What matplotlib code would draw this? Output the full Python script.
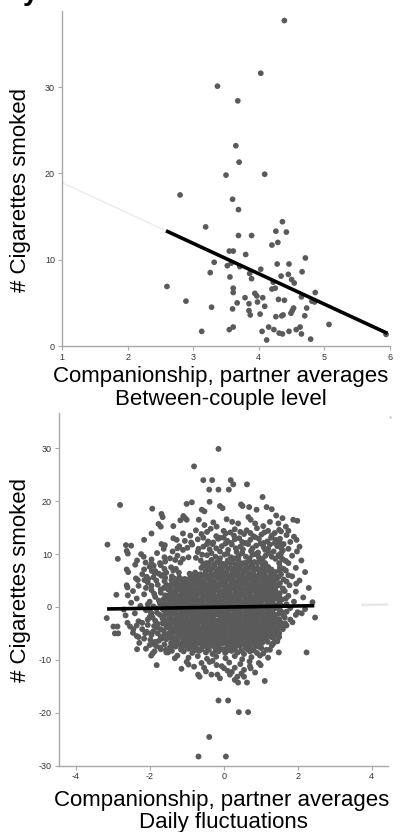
import numpy as np
import matplotlib
matplotlib.use('Agg')
import matplotlib.pyplot as plt

plt.rcParams['font.family'] = ['Liberation Sans', 'DejaVu Sans']
plt.rcParams['axes.unicode_minus'] = False

# ---- between-couple level (couple means) ----
between_x = [4.39, 4.03, 3.37, 3.68, 3.65, 3.70, 3.50, 4.09, 2.80, 3.60,
             3.69, 3.19, 4.36, 4.26, 4.42, 3.69, 3.89, 4.20, 4.29, 3.80,
             4.71, 3.55, 3.61, 3.32, 3.52, 3.58, 3.71, 4.28, 4.46, 3.26,
             3.56, 3.86, 3.89, 4.03, 2.60, 3.61, 3.61, 4.20, 4.25, 3.94,
             3.97, 4.06, 3.79, 4.30, 4.39, 2.89, 3.67, 3.85, 3.98, 4.09,
             3.28, 3.60, 3.85, 3.87, 4.02, 4.26, 3.13, 3.55, 3.61, 4.05,
             4.15, 4.23, 4.12, 4.66, 4.34, 4.45, 4.50, 4.54, 4.22, 4.86,
             4.65, 4.81, 4.85, 4.73, 4.53, 4.51, 4.49, 4.37, 4.35, 4.70,
             5.07, 4.57, 4.63, 4.31, 4.36, 4.46, 4.65, 4.79, 5.94]
between_y = [37.7, 31.6, 30.1, 28.4, 23.2, 21.3, 19.8, 19.9, 17.5, 17.0,
             15.8, 13.8, 14.4, 13.3, 13.2, 12.8, 12.8, 11.7, 12.0, 10.6,
             10.2, 11.0, 11.0, 9.7, 9.3, 9.6, 9.2, 9.5, 9.5, 8.5,
             8.0, 8.4, 7.8, 8.9, 6.9, 6.7, 6.2, 6.6, 6.7, 6.1,
             5.8, 5.6, 5.6, 5.4, 5.3, 5.2, 5.0, 4.9, 5.1, 4.6,
             4.5, 4.3, 4.1, 3.6, 3.7, 3.4, 1.7, 1.9, 2.2, 1.7,
             2.2, 1.9, 0.7, 8.6, 8.1, 8.3, 7.7, 7.3, 7.4, 6.2,
             5.7, 5.2, 5.1, 4.4, 4.4, 4.1, 3.8, 3.6, 3.5, 3.5,
             2.5, 1.9, 2.2, 1.5, 1.4, 1.7, 1.4, 0.8, 1.35]
between_fit = (22.45, -3.52)      # intercept, slope
between_fit_range = (2.585, 5.96)

# ---- daily fluctuations (within-couple) ----
daily_core = [
    (-1.31, 8.9), (-1.17, 8.4), (-0.62, 8.8), (-0.47, 8.3), (-0.33, 8.9), (-0.18, 8.5), (-0.04, 8.2), (0.11, 8.8), (0.25, 8.4), (0.4, 8.9), (0.54, 8.3), (0.69, 8.7), (0.83, 8.5), (0.97, 8.9), (1.12, 8.3),
    (-1.42, 7.5), (-0.53, 7.9), (-0.39, 7.4), (-0.25, 7.8), (-0.1, 7.5), (0.05, 7.9), (0.19, 7.4), (0.33, 7.7), (0.48, 8.0), (0.62, 7.5), (0.77, 7.8), (0.91, 7.4), (1.06, 7.9), (1.2, 7.6),
    (-1.36, 6.9), (-1.21, 6.5), (-0.49, 6.7), (-0.35, 7.0), (-0.2, 6.5), (-0.06, 6.9), (0.08, 6.6), (0.23, 7.0), (0.37, 6.6), (0.52, 6.9), (0.66, 6.5), (0.81, 6.8), (0.95, 7.0), (1.1, 6.6), (1.24, 6.9), (1.39, 6.6),
    (-1.4, 5.8), (-0.83, 6.1), (-0.68, 5.7), (-0.54, 6.0), (-0.4, 5.6), (-0.25, 6.1), (-0.11, 5.7), (0.04, 6.0), (0.18, 5.6), (0.33, 6.1), (0.47, 5.8), (0.61, 5.6), (0.76, 6.1), (0.9, 5.7), (1.05, 6.0), (1.19, 5.6), (1.33, 5.9),
    (-1.41, 5.1), (-1.27, 4.8), (-1.12, 5.2), (-0.98, 4.7), (-0.83, 5.0), (-0.69, 5.3), (-0.55, 4.8), (-0.4, 5.1), (-0.26, 4.7), (-0.11, 5.2), (0.03, 4.9), (0.17, 5.2), (0.32, 4.7), (0.46, 5.1), (0.61, 4.8), (0.75, 5.2), (0.9, 4.9), (1.04, 5.1), (1.18, 4.7), (1.33, 5.0), (1.43, 5.3),
    (-1.46, 4.0), (-1.32, 4.3), (-1.17, 3.9), (-1.03, 4.2), (-0.88, 4.0), (-0.74, 4.4), (-0.59, 3.9), (-0.45, 4.2), (-0.3, 3.8), (-0.16, 4.1), (-0.01, 4.3), (0.13, 3.9), (0.28, 4.2), (0.42, 4.0), (0.57, 4.4), (0.71, 3.9), (0.86, 4.2), (1.0, 3.8), (1.15, 4.1), (1.29, 4.3), (1.41, 3.9),
    (-1.5, 3.3), (-1.36, 3.0), (-1.21, 3.4), (-1.07, 3.1), (-0.92, 2.9), (-0.78, 3.3), (-0.63, 3.0), (-0.49, 3.4), (-0.34, 3.1), (-0.2, 3.3), (-0.05, 2.9), (0.09, 3.2), (0.24, 3.5), (0.38, 3.0), (0.53, 3.3), (0.67, 2.9), (0.82, 3.2), (0.96, 3.4), (1.11, 3.0), (1.25, 3.3), (1.4, 3.1),
    (-1.48, 2.2), (-1.33, 2.5), (-1.19, 2.1), (-1.04, 2.4), (-0.9, 2.0), (-0.75, 2.3), (-0.61, 2.6), (-0.46, 2.1), (-0.32, 2.4), (-0.17, 2.0), (-0.03, 2.3), (0.12, 2.6), (0.26, 2.1), (0.41, 2.4), (0.55, 2.2), (0.7, 2.5), (0.84, 2.0), (0.99, 2.3), (1.13, 2.6), (1.28, 2.1), (1.42, 2.4),
    (-1.51, 1.5), (-1.37, 1.2), (-1.22, 1.6), (-1.08, 1.3), (-0.93, 1.1), (-0.79, 1.5), (-0.64, 1.2), (-0.5, 1.6), (-0.35, 1.3), (-0.21, 1.0), (-0.06, 1.4), (0.08, 1.7), (0.23, 1.2), (0.37, 1.5), (0.52, 1.1), (0.66, 1.4), (0.81, 1.6), (0.95, 1.2), (1.1, 1.5), (1.24, 1.3), (1.39, 1.6),
    (-1.49, 0.4), (-1.34, 0.7), (-1.2, 0.3), (-1.05, 0.6), (-0.91, 0.2), (-0.76, 0.5), (-0.62, 0.8), (-0.47, 0.3), (-0.33, 0.6), (-0.18, 0.4), (-0.04, 0.7), (0.11, 0.2), (0.25, 0.5), (0.4, 0.8), (0.54, 0.3), (0.69, 0.6), (0.83, 0.4), (0.98, 0.7), (1.12, 0.2), (1.27, 0.5), (1.41, 0.3),
    (-1.52, -0.3), (-1.38, -0.6), (-1.23, -0.2), (-1.09, -0.5), (-0.94, -0.7), (-0.8, -0.3), (-0.65, -0.6), (-0.51, -0.2), (-0.36, -0.5), (-0.22, -0.1), (-0.07, -0.4), (0.07, -0.7), (0.22, -0.3), (0.36, -0.6), (0.51, -0.2), (0.65, -0.5), (0.8, -0.3), (0.94, -0.6), (1.09, -0.2), (1.23, -0.5), (1.38, -0.3),
    (-1.5, -1.4), (-1.35, -1.1), (-1.21, -1.5), (-1.06, -1.2), (-0.92, -1.0), (-0.77, -1.4), (-0.63, -1.1), (-0.48, -1.5), (-0.34, -1.2), (-0.19, -1.4), (-0.05, -1.0), (0.1, -1.3), (0.24, -1.6), (0.39, -1.1), (0.53, -1.4), (0.68, -1.2), (0.82, -1.5), (0.97, -1.1), (1.11, -1.4), (1.26, -1.2), (1.4, -1.5),
    (-1.47, -2.1), (-1.33, -2.4), (-1.18, -2.0), (-1.04, -2.3), (-0.89, -2.5), (-0.75, -2.1), (-0.6, -2.4), (-0.46, -2.0), (-0.31, -2.3), (-0.17, -2.6), (-0.02, -2.1), (0.12, -2.4), (0.27, -2.0), (0.41, -2.3), (0.56, -2.5), (0.7, -2.1), (0.85, -2.4), (0.99, -2.0), (1.14, -2.3), (1.28, -2.1), (1.42, -2.4),
    (-1.49, -3.2), (-1.34, -2.9), (-1.2, -3.3), (-1.05, -3.0), (-0.91, -3.4), (-0.76, -3.1), (-0.62, -2.8), (-0.47, -3.2), (-0.33, -3.0), (-0.18, -3.4), (-0.04, -3.1), (0.11, -2.9), (0.25, -3.3), (0.4, -3.0), (0.54, -3.4), (0.69, -3.1), (0.83, -2.9), (0.98, -3.2), (1.12, -3.0), (1.27, -3.3), (1.41, -3.0),
    (-1.5, -3.9), (-1.36, -4.2), (-1.21, -3.8), (-1.07, -4.1), (-0.92, -4.3), (-0.78, -3.9), (-0.63, -4.2), (-0.49, -3.8), (-0.34, -4.1), (-0.2, -4.4), (-0.05, -3.9), (0.09, -4.2), (0.24, -3.8), (0.38, -4.1), (0.53, -4.3), (0.67, -3.9), (0.82, -4.2), (0.96, -3.8), (1.11, -4.1), (1.25, -3.9), (1.38, -4.2),
    (-1.48, -5.0), (-1.34, -4.7), (-1.19, -5.1), (-1.05, -4.8), (-0.9, -5.2), (-0.76, -4.9), (-0.61, -4.6), (-0.47, -5.0), (-0.32, -4.8), (-0.18, -5.2), (-0.03, -4.9), (0.11, -4.7), (0.26, -5.1), (0.4, -4.8), (0.55, -5.2), (0.69, -4.9), (0.84, -4.7), (0.98, -5.0), (1.13, -4.8), (1.27, -5.1),
    (-1.46, -5.7), (-1.31, -6.0), (-1.17, -5.6), (-1.02, -5.9), (-0.88, -6.1), (-0.73, -5.7), (-0.59, -6.0), (-0.44, -5.6), (-0.3, -5.9), (-0.15, -6.2), (-0.01, -5.7), (0.14, -6.0), (0.28, -5.6), (0.43, -5.9), (0.57, -6.1), (0.72, -5.7), (0.86, -6.0), (1.01, -5.6), (1.15, -5.9), (1.29, -5.7),
    (-1.42, -6.8), (-1.28, -6.5), (-1.13, -6.9), (-0.99, -6.6), (-0.84, -7.0), (-0.7, -6.7), (-0.55, -6.4), (-0.41, -6.8), (-0.26, -6.6), (-0.12, -7.0), (0.03, -6.7), (0.17, -6.5), (0.32, -6.9), (0.46, -6.6), (0.61, -7.0), (0.75, -6.7), (0.9, -6.5), (1.04, -6.8), (1.19, -6.6),
    (-1.3, -7.5), (-1.15, -7.8), (-1.01, -7.4), (-0.86, -7.7), (-0.72, -7.9), (-0.57, -7.5), (-0.43, -7.8), (-0.28, -7.4), (-0.14, -7.7), (0.01, -8.0), (0.15, -7.5), (0.3, -7.8), (0.44, -7.4), (0.59, -7.7), (0.73, -7.9), (0.88, -7.5), (1.02, -7.8),
    (-1.08, -8.4), (-0.85, -8.7), (-0.66, -8.3), (-0.48, -8.6), (-0.3, -8.9), (-0.14, -8.4), (0.04, -8.7), (0.21, -8.3), (0.38, -8.6), (0.55, -8.9), (0.71, -8.4), (0.9, -8.7),
]
daily_core2 = [
    (-0.55, 8.1), (-0.4, 8.3), (-0.26, 8.0), (-0.11, 8.4), (0.04, 8.1), (0.18, 8.3), (0.33, 8.0), (0.47, 8.2), (0.62, 8.4), (0.76, 8.0), (0.91, 8.3), (1.05, 8.1),
    (-1.29, 7.2), (-0.6, 7.4), (-0.45, 7.1), (-0.31, 7.3), (-0.16, 7.0), (-0.02, 7.4), (0.13, 7.2), (0.27, 7.0), (0.42, 7.3), (0.56, 7.1), (0.71, 7.4), (0.85, 7.2), (1.0, 7.0), (1.14, 7.3), (1.29, 7.1),
    (-0.92, 6.3), (-0.77, 6.5), (-0.63, 6.2), (-0.48, 6.4), (-0.34, 6.2), (-0.19, 6.6), (-0.05, 6.3), (0.1, 6.1), (0.24, 6.4), (0.39, 6.2), (0.53, 6.5), (0.68, 6.3), (0.82, 6.1), (0.97, 6.4), (1.11, 6.2), (1.26, 6.5),
    (-1.34, 5.4), (-1.2, 5.6), (-1.05, 5.3), (-0.91, 5.5), (-0.76, 5.7), (-0.62, 5.4), (-0.47, 5.6), (-0.33, 5.3), (-0.18, 5.5), (-0.04, 5.7), (0.11, 5.4), (0.25, 5.5), (0.4, 5.3), (0.54, 5.6), (0.69, 5.4), (0.83, 5.3), (0.98, 5.6), (1.12, 5.4), (1.27, 5.5), (1.4, 5.7),
    (-1.39, 4.5), (-1.24, 4.7), (-1.1, 4.4), (-0.95, 4.6), (-0.81, 4.5), (-0.66, 4.7), (-0.52, 4.4), (-0.37, 4.6), (-0.23, 4.5), (-0.08, 4.8), (0.06, 4.4), (0.21, 4.6), (0.35, 4.5), (0.5, 4.7), (0.64, 4.4), (0.79, 4.6), (0.93, 4.5), (1.08, 4.7), (1.22, 4.4), (1.36, 4.6),
    (-1.43, 3.6), (-1.28, 3.8), (-1.14, 3.5), (-0.99, 3.7), (-0.85, 3.6), (-0.7, 3.8), (-0.56, 3.5), (-0.41, 3.7), (-0.27, 3.6), (-0.12, 3.9), (0.02, 3.5), (0.17, 3.7), (0.31, 3.6), (0.46, 3.8), (0.6, 3.5), (0.75, 3.7), (0.89, 3.6), (1.04, 3.8), (1.18, 3.5), (1.33, 3.7),
    (-1.43, 2.7), (-1.29, 2.9), (-1.14, 2.6), (-1.0, 2.8), (-0.85, 2.7), (-0.71, 2.9), (-0.56, 2.6), (-0.42, 2.8), (-0.27, 2.7), (-0.13, 3.0), (0.02, 2.6), (0.16, 2.8), (0.31, 2.7), (0.45, 2.9), (0.6, 2.6), (0.74, 2.8), (0.89, 2.7), (1.03, 2.9), (1.18, 2.6), (1.32, 2.8),
    (-1.44, 1.8), (-1.3, 2.0), (-1.15, 1.7), (-1.01, 1.9), (-0.86, 1.8), (-0.72, 2.0), (-0.57, 1.7), (-0.43, 1.9), (-0.28, 1.8), (-0.14, 2.1), (0.01, 1.7), (0.15, 1.9), (0.3, 1.8), (0.44, 2.0), (0.59, 1.7), (0.73, 1.9), (0.88, 1.8), (1.02, 2.0), (1.17, 1.7), (1.31, 1.9),
    (-1.44, 0.9), (-1.29, 1.1), (-1.15, 0.8), (-1.0, 1.0), (-0.86, 0.9), (-0.71, 1.1), (-0.57, 0.8), (-0.42, 1.0), (-0.28, 0.9), (-0.13, 1.2), (0.02, 0.8), (0.16, 1.0), (0.31, 0.9), (0.45, 1.1), (0.6, 0.8), (0.74, 1.0), (0.89, 0.9), (1.03, 1.1), (1.18, 0.8), (1.32, 1.0),
    (-1.45, 0.0), (-1.3, 0.2), (-1.16, -0.1), (-1.01, 0.1), (-0.87, 0.0), (-0.72, 0.2), (-0.58, -0.1), (-0.43, 0.1), (-0.29, 0.0), (-0.14, 0.3), (0.0, -0.1), (0.15, 0.1), (0.29, 0.0), (0.44, 0.2), (0.58, -0.1), (0.73, 0.1), (0.87, 0.0), (1.02, 0.2), (1.16, -0.1), (1.31, 0.1),
    (-1.44, -0.9), (-1.3, -0.7), (-1.15, -1.0), (-1.01, -0.8), (-0.86, -0.9), (-0.72, -0.7), (-0.57, -1.0), (-0.43, -0.8), (-0.28, -0.9), (-0.14, -0.6), (0.01, -1.0), (0.15, -0.8), (0.3, -0.9), (0.44, -0.7), (0.59, -1.0), (0.73, -0.8), (0.88, -0.9), (1.02, -0.7), (1.17, -1.0), (1.31, -0.8),
    (-1.43, -1.8), (-1.28, -1.6), (-1.14, -1.9), (-0.99, -1.7), (-0.85, -1.8), (-0.7, -1.6), (-0.56, -1.9), (-0.41, -1.7), (-0.27, -1.8), (-0.12, -1.5), (0.02, -1.9), (0.17, -1.7), (0.31, -1.8), (0.46, -1.6), (0.6, -1.9), (0.75, -1.7), (0.89, -1.8), (1.04, -1.6), (1.18, -1.9), (1.33, -1.7),
    (-1.42, -2.7), (-1.27, -2.5), (-1.13, -2.8), (-0.98, -2.6), (-0.84, -2.7), (-0.69, -2.5), (-0.55, -2.8), (-0.4, -2.6), (-0.26, -2.7), (-0.11, -2.4), (0.03, -2.8), (0.18, -2.6), (0.32, -2.7), (0.47, -2.5), (0.61, -2.8), (0.76, -2.6), (0.9, -2.7), (1.05, -2.5), (1.19, -2.8), (1.34, -2.6),
    (-1.43, -3.6), (-1.28, -3.4), (-1.14, -3.7), (-0.99, -3.5), (-0.85, -3.6), (-0.7, -3.4), (-0.56, -3.7), (-0.41, -3.5), (-0.27, -3.6), (-0.12, -3.3), (0.02, -3.7), (0.17, -3.5), (0.31, -3.6), (0.46, -3.4), (0.6, -3.7), (0.75, -3.5), (0.89, -3.6), (1.04, -3.4), (1.18, -3.7), (1.33, -3.5),
    (-1.42, -4.5), (-1.27, -4.3), (-1.13, -4.6), (-0.98, -4.4), (-0.84, -4.5), (-0.69, -4.3), (-0.55, -4.6), (-0.4, -4.4), (-0.26, -4.5), (-0.11, -4.2), (0.03, -4.6), (0.18, -4.4), (0.32, -4.5), (0.47, -4.3), (0.61, -4.6), (0.76, -4.4), (0.9, -4.5), (1.05, -4.3), (1.19, -4.6), (1.32, -4.4),
    (-1.41, -5.4), (-1.26, -5.2), (-1.12, -5.5), (-0.97, -5.3), (-0.83, -5.4), (-0.68, -5.2), (-0.54, -5.5), (-0.39, -5.3), (-0.25, -5.4), (-0.1, -5.1), (0.04, -5.5), (0.19, -5.3), (0.33, -5.4), (0.48, -5.2), (0.62, -5.5), (0.77, -5.3), (0.91, -5.4), (1.06, -5.2), (1.2, -5.5),
    (-1.38, -6.3), (-1.24, -6.1), (-1.09, -6.4), (-0.95, -6.2), (-0.8, -6.3), (-0.66, -6.1), (-0.51, -6.4), (-0.37, -6.2), (-0.22, -6.3), (-0.08, -6.0), (0.07, -6.4), (0.21, -6.2), (0.36, -6.3), (0.5, -6.1), (0.65, -6.4), (0.79, -6.2), (0.94, -6.3), (1.08, -6.1),
    (-1.35, -7.2), (-1.2, -7.0), (-1.06, -7.3), (-0.91, -7.1), (-0.77, -7.2), (-0.62, -7.0), (-0.48, -7.3), (-0.33, -7.1), (-0.19, -7.2), (-0.04, -6.9), (0.1, -7.3), (0.25, -7.1), (0.39, -7.2), (0.54, -7.0), (0.68, -7.3), (0.83, -7.1), (0.97, -7.2),
    (-1.15, -8.1), (-0.95, -7.9), (-0.78, -8.2), (-0.6, -8.0), (-0.4, -8.1), (-0.22, -8.3), (-0.05, -8.0), (0.12, -8.2), (0.3, -8.1), (0.48, -8.3), (0.64, -8.0), (0.8, -8.2),
]
daily_upper = [
    (-1.25, 9.7), (-0.95, 9.4), (-0.45, 9.8), (-0.22, 9.5), (0.02, 9.9), (0.2, 9.4), (0.41, 9.7), (0.6, 9.5), (0.78, 9.9), (0.95, 9.4), (1.13, 9.7), (1.3, 9.5), (1.48, 9.8),
    (-1.38, 10.5), (-1.1, 10.8), (-0.7, 10.4), (-0.38, 10.9), (-0.1, 10.5), (0.12, 10.8), (0.35, 10.4), (0.52, 10.9), (0.74, 10.6), (0.93, 10.3), (1.12, 10.8), (1.35, 10.5), (1.6, 10.7),
    (-1.2, 11.5), (-0.85, 11.8), (-0.55, 11.4), (-0.3, 11.9), (-0.05, 11.5), (0.22, 11.8), (0.45, 11.4), (0.66, 11.9), (0.88, 11.6), (1.08, 11.3), (1.25, 11.8), (1.45, 11.5),
    (-1.05, 12.5), (-0.7, 12.8), (-0.42, 12.4), (-0.15, 12.9), (0.1, 12.5), (0.3, 12.8), (0.5, 12.3), (0.72, 12.7), (0.95, 12.9), (1.18, 12.4), (1.4, 12.7),
    (-0.9, 13.5), (-0.6, 13.8), (-0.2, 13.4), (0.05, 13.9), (0.28, 13.5), (0.55, 13.8), (0.8, 13.4), (1.02, 13.7), (1.3, 13.5),
    (-0.75, 14.5), (-0.35, 14.8), (0.0, 14.4), (0.3, 14.7), (0.62, 14.5), (0.9, 14.9), (1.2, 14.4), (1.5, 14.6),
    (-1.45, 9.2), (-1.1, 9.1), (-0.75, 9.3), (-0.58, 9.9), (-0.33, 10.2), (-0.1, 9.2), (0.1, 10.1), (0.3, 9.2), (0.5, 10.2), (0.7, 9.2), (0.86, 10.0), (1.05, 9.1), (1.22, 10.2), (1.4, 9.1), (1.55, 9.4),
    (-1.25, 11.1), (-0.98, 11.2), (-0.68, 11.0), (-0.45, 11.9), (-0.2, 11.1), (0.05, 12.0), (0.33, 11.1), (0.55, 12.1), (0.78, 11.1), (1.0, 12.0), (1.2, 11.0), (1.38, 12.1), (1.55, 11.2),
    (-0.88, 12.2), (-0.55, 13.1), (-0.28, 12.2), (0.0, 13.1), (0.2, 12.1), (0.42, 13.0), (0.62, 12.1), (0.85, 13.2), (1.08, 12.1), (1.28, 13.1), (1.5, 12.3),
    (-1.1, 13.9), (-0.45, 14.2), (-0.1, 13.1), (0.18, 14.1), (0.45, 14.2), (0.72, 14.0), (1.1, 14.1), (1.38, 14.0),
]
daily_left = [
    (-1.62, 11.0), (-1.8, 10.2), (-1.6, 9.4), (-1.95, 9.0), (-1.72, 8.3), (-2.0, 7.6), (-1.6, 7.2), (-1.85, 6.8),
    (-1.68, 5.9), (-2.2, 6.2), (-1.9, 5.6), (-1.6, 4.9), (-2.05, 4.6), (-1.78, 4.2), (-2.3, 4.0), (-1.62, 3.6),
    (-1.95, 3.2), (-2.45, 3.0), (-1.7, 2.7), (-2.15, 2.4), (-1.85, 1.9), (-1.62, 1.5), (-2.35, 1.6), (-2.0, 1.0),
    (-1.72, 0.6), (-2.5, 0.8), (-2.25, 0.2), (-1.9, 0.1), (-1.65, -0.4), (-2.1, -0.6), (-2.7, -0.5), (-1.8, -1.1),
    (-2.4, -1.2), (-1.62, -1.8), (-2.0, -1.9), (-2.65, -1.6), (-1.85, -2.6), (-2.3, -2.7), (-1.65, -3.1), (-2.05, -3.4),
    (-2.6, -3.0), (-1.8, -3.9), (-2.2, -4.2), (-1.62, -4.5), (-1.95, -5.3), (-2.45, -4.9), (-1.7, -5.7), (-2.15, -6.0),
    (-1.85, -6.6), (-1.6, -7.1), (-2.0, -7.2), (-1.72, -7.7), (-1.55, -8.6),
    (-1.58, 8.6), (-1.7, 7.9), (-1.55, 6.5), (-1.75, 6.3), (-1.58, 5.5), (-1.82, 5.0), (-1.55, 4.2), (-1.7, 3.3),
    (-1.88, 2.5), (-1.58, 2.2), (-1.75, 1.2), (-1.6, 0.7), (-1.82, -0.3), (-1.58, -1.0), (-1.72, -1.5), (-1.95, -1.2),
    (-1.58, -2.6), (-1.78, -3.2), (-1.55, -3.7), (-1.9, -4.6), (-1.6, -5.2), (-1.78, -5.0), (-1.55, -6.1), (-1.75, -6.4),
    (-1.9, -7.0), (-1.45, -7.6), (-1.4, -8.3),
    (-1.98, -0.9), (-2.05, -2.4), (-1.88, -3.6), (-2.12, -5.0), (-1.68, -6.0), (-1.98, -6.2), (-2.28, -6.8), (-1.82, -7.4),
    (-2.1, -7.9), (-1.65, -2.2), (-1.92, -2.0), (-2.2, -3.0), (-1.7, -4.2), (-2.35, -3.5), (-1.6, 0.1), (-2.05, 0.5),
    (-1.95, 4.0), (-2.1, 3.6), (-1.62, 6.1), (-1.95, 8.2),
]
daily_right = [
    (1.55, 14.3), (1.7, 13.6), (1.52, 12.9), (1.8, 12.3), (1.6, 11.8), (1.75, 11.0), (2.05, 11.4), (1.55, 10.2),
    (1.85, 9.7), (1.6, 9.0), (2.1, 8.8), (1.75, 8.3), (1.52, 7.6), (1.95, 7.4), (1.68, 6.9), (2.2, 6.6),
    (1.55, 6.2), (1.85, 5.8), (1.62, 5.2), (2.05, 5.0), (1.52, 4.5), (1.78, 4.1), (2.3, 3.6), (1.6, 3.5),
    (1.95, 2.9), (1.52, 2.6), (1.75, 2.1), (2.15, 1.8), (1.58, 1.4), (1.9, 1.0), (2.4, 0.9), (1.55, 0.3),
    (1.8, -0.2), (2.2, -0.4), (1.55, -0.8), (2.0, -1.0), (1.62, -1.6), (1.5, -2.3), (1.8, -2.4), (1.55, -3.0),
    (1.48, -3.7), (1.6, -4.2), (1.5, -5.0), (1.35, -5.8), (1.45, -6.5), (1.3, -7.3), (1.25, -8.1),
    (1.5, 9.6), (1.68, 8.7), (1.5, 8.3), (1.62, 7.2), (1.5, 6.9), (1.75, 6.0), (1.48, 5.7), (1.7, 4.8),
    (1.48, 4.1), (1.65, 3.0), (1.5, 2.0), (1.68, 1.6), (1.5, 1.0), (1.7, 0.5), (1.5, -0.3), (1.7, -0.9),
    (1.5, -1.2), (1.65, -2.0), (1.45, -2.9), (1.62, -3.5), (1.45, -4.5), (1.4, -5.3), (1.5, -5.7), (1.35, -6.8),
]
daily_lower = [
    (-1.25, -9.2), (-0.95, -9.6), (-0.7, -9.3), (-0.45, -9.8), (-0.2, -9.4), (0.05, -9.7), (0.3, -9.3), (0.5, -9.9),
    (0.75, -9.5), (0.98, -9.2), (1.2, -9.6), (-1.0, -10.4), (-0.6, -10.6), (-0.3, -10.2), (0.15, -10.5), (0.45, -10.8),
    (0.7, -10.3), (0.95, -10.6), (-0.8, -11.3), (-0.05, -11.2), (0.3, -11.5), (0.55, -11.9), (1.0, -11.0), (-0.48, -12.2),
    (0.22, -12.3), (0.48, -12.6), (0.85, -12.4), (-0.1, -13.5), (0.3, -13.8), (0.55, -13.2),
]
daily_outer = [
    (-0.14, 29.9), (-0.80, 26.6), (-0.55, 24.0), (-0.31, 24.0), (0.19, 24.0), (0.26, 23.2), (0.63, 23.2),
    (-0.39, 22.2), (-0.14, 22.2), (0.14, 22.2), (1.05, 20.8), (-2.80, 19.3), (-1.0, 19.5), (-0.86, 19.8),
    (-0.38, 19.9), (0.47, 19.4), (0.51, 19.1), (0.69, 18.9), (0.89, 18.4), (1.16, 18.9), (1.30, 18.5),
    (-1.93, 18.6), (-1.68, 17.6), (-1.65, 17.0), (-1.09, 17.2), (-1.04, 16.8), (-0.59, 18.4), (-0.52, 18.1),
    (-0.10, 19.1), (-0.03, 18.7), (0.67, 17.0), (0.73, 16.5), (1.42, 17.3), (1.59, 16.8), (1.88, 16.5), (1.99, 16.3),
    (-1.17, 16.4), (-1.0, 16.5), (-1.76, 15.7), (-1.70, 15.2), (-1.36, 15.3), (-0.67, 16.5), (-0.52, 15.5),
    (-0.28, 16.0), (-0.19, 15.2), (0.08, 16.6), (0.23, 16.1), (0.39, 15.8), (0.85, 15.8), (1.07, 15.3),
    (1.25, 16.1), (1.48, 15.8), (1.68, 15.2), (1.75, 14.4), (-1.95, 13.9), (-2.15, 12.7), (-3.14, 11.8),
    (-2.64, 11.7), (-2.50, 11.6), (-1.68, 11.9), (-1.59, 11.7), (-1.36, 13.0), (-1.27, 12.7), (1.62, 11.9),
    (1.90, 13.3), (1.97, 12.7), (-2.86, 9.1), (-2.62, 10.6), (-2.59, 10.1), (-2.34, 8.8), (-2.39, 8.0),
    (-2.23, 10.0), (-2.16, 9.5), (-2.62, 7.1), (-2.58, 6.6), (-2.11, 8.4), (-2.15, 7.1), (-2.14, 5.1),
    (-1.94, 6.8), (-1.86, 6.4), (-1.89, 7.8), (-2.08, 5.7), (-2.04, 5.3), (-2.37, 5.4), (-2.32, 5.1),
    (-2.62, 4.1), (-2.60, 3.7), (-2.90, 2.3), (-2.59, 2.2), (1.98, 10.5), (1.96, 4.4),
    (-3.16, -2.1), (-2.98, -3.7), (-2.87, -3.7), (-2.94, -5.0), (-2.85, -5.0), (-2.53, -3.7), (-2.44, -4.2),
    (-2.35, -5.5), (-2.30, -5.7), (-2.08, -4.7), (-1.97, -5.0), (-2.34, -8.0), (-1.87, -8.4), (-1.70, -8.0),
    (-1.81, -11.0), (-1.96, -9.2), (-1.92, -8.8), (-1.56, -8.1), (-1.50, -8.6), (-1.32, -9.7), (-1.14, -11.7),
    (-0.95, -10.9), (-0.68, -28.3), (0.06, -28.3), (-0.39, -24.6), (-0.14, -17.7), (0.12, -17.7),
    (0.41, -19.9), (0.66, -19.9), (-0.69, -12.8), (-0.65, -13.2), (-0.33, -12.8), (-0.17, -12.8),
    (0.37, -13.2), (0.39, -14.3), (0.63, -14.3), (1.11, -14.0), (0.01, -11.6), (0.11, -12.1), (0.17, -12.8),
    (-0.19, -11.0), (-0.38, -10.4), (-0.53, -11.5), (0.71, -11.2), (0.73, -11.6), (2.24, -8.6), (2.47, -2.0),
    (2.11, -1.2), (1.95, -1.5), (1.86, -2.9), (1.70, -3.5), (1.66, -3.1), (1.43, -4.5), (1.39, -5.1), (1.34, -6.9),
    (1.49, -8.6), (1.16, -8.1), (1.07, -8.8), (0.98, -7.6), (0.89, -6.9),
]
daily_fit = (-0.03, 0.11)
daily_fit_range = (-3.15, 2.45)

xlabel_line1 = 'Companionship, partner averages'
ylabel = '# Cigarettes smoked'

dot_col = '#5a5a5a'
spine_col = '#a8a8a8'


def style_axes(ax):
    for s in ['top', 'right']:
        ax.spines[s].set_visible(False)
    for s in ['left', 'bottom']:
        ax.spines[s].set_color(spine_col)
        ax.spines[s].set_linewidth(1.0)
    ax.tick_params(length=3, width=0.8, color=spine_col, labelsize=6.5,
                   labelcolor='#333333', pad=2)


fig = plt.figure(figsize=(4.01, 8.32), dpi=100)

# top panel
ax1 = fig.add_axes([0.1546, 0.5841, 0.818, 0.4026])
ax1.scatter(between_x, between_y, s=17, color=dot_col, edgecolors='none', zorder=2)
b0, b1 = between_fit
xx = np.array([1.0, between_fit_range[0]])
ax1.plot(xx, b0 + b1 * xx, color='#ebebeb', lw=1.0, zorder=1)
xx = np.array(between_fit_range)
ax1.plot(xx, b0 + b1 * xx, color='black', lw=2.6, zorder=3, solid_capstyle='butt')
ax1.set_xlim(1, 6.0)
ax1.set_ylim(0, 38.8)
ax1.set_xticks([1, 2, 3, 4, 5, 6])
ax1.set_yticks([0, 10, 20, 30])
style_axes(ax1)

# bottom panel
daily = np.array(daily_core + daily_core2 + daily_upper + daily_left
                 + daily_right + daily_lower + daily_outer)
ax2 = fig.add_axes([0.1471, 0.0799, 0.8204, 0.4237])
ax2.scatter(daily[:, 0], daily[:, 1], s=18, color=dot_col, edgecolors='none', zorder=2)
d0, d1 = daily_fit
xx = np.array([3.75, 4.45])
ax2.plot(xx, d0 + d1 * xx, color='#e8e8e8', lw=1.8, zorder=1)
xx = np.array(daily_fit_range)
ax2.plot(xx, d0 + d1 * xx, color='black', lw=2.6, zorder=3, solid_capstyle='butt')
ax2.set_xlim(-4.45, 4.44)
ax2.set_ylim(-30, 36.7)
ax2.set_xticks([-4, -2, 0, 2, 4])
ax2.set_yticks([-30, -20, -10, 0, 10, 20, 30])
style_axes(ax2)

# labels
fig.text(0.052, 0.7716, ylabel, rotation=90, ha='center', va='center', fontsize=16)
fig.text(0.052, 0.3029, ylabel, rotation=90, ha='center', va='center', fontsize=16)
fig.text(0.551, 0.5409, xlabel_line1, ha='center', va='baseline', fontsize=16)
fig.text(0.551, 0.5132, 'Between-couple level', ha='center', va='baseline', fontsize=16)
fig.text(0.553, 0.0313, xlabel_line1, ha='center', va='baseline', fontsize=16)
fig.text(0.558, 0.0048, 'Daily fluctuations', ha='center', va='baseline', fontsize=16)

# remnant of heading cut at the top edge
fig.text(0.077, 1.0, 'y', ha='center', va='baseline', fontsize=20, fontweight='bold')
fig.text(0.975, 0.497, '*', ha='center', va='center', fontsize=6, color='#b0b0b0')

fig.savefig('out.png', dpi=100)
